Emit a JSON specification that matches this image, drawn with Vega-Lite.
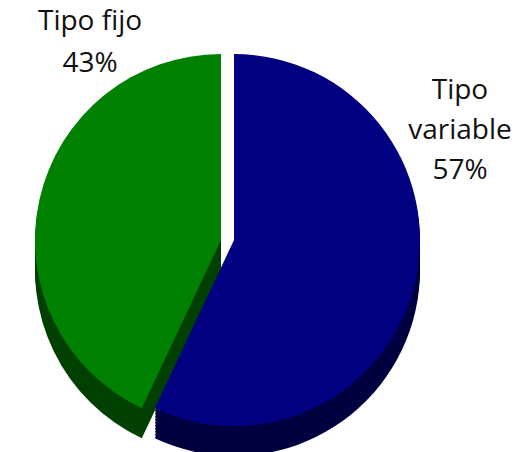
{
  "$schema": "https://vega.github.io/schema/vega-lite/v6.json",
  "width": 521,
  "height": 452,
  "autosize": {"type": "fit", "contains": "padding"},
  "padding": 0,
  "background": "white",
  "config": {"view": {"stroke": null}},
  "data": {"values": [
    {"tipo": "Tipo variable", "value": 57, "ord": 1, "label": "Tipo\nvariable\n57%"},
    {"tipo": "Tipo fijo", "value": 43, "ord": 2, "label": "Tipo fijo\n43%"}
  ]},
  "transform": [
    {"stack": "value", "groupby": [], "sort": [{"field": "ord"}], "as": ["t0", "t1"]},
    {"calculate": "(datum.t0 + datum.t1) / 2", "as": "mid"}
  ],
  "encoding": {
    "theta": {"field": "t0", "type": "quantitative", "scale": {"domain": [0, 100]}},
    "theta2": {"field": "t1"}
  },
  "layer": [
    {"transform": [{"filter": "datum.tipo === 'Tipo fijo'"}], "mark": {"type": "arc", "radius": 186, "xOffset": -39.5, "yOffset": 48, "fill": "#004000"}},
    {"transform": [{"filter": "datum.tipo === 'Tipo fijo'"}], "mark": {"type": "arc", "radius": 186, "xOffset": -39.5, "yOffset": 45, "fill": "#004000"}},
    {"transform": [{"filter": "datum.tipo === 'Tipo fijo'"}], "mark": {"type": "arc", "radius": 186, "xOffset": -39.5, "yOffset": 42, "fill": "#004000"}},
    {"transform": [{"filter": "datum.tipo === 'Tipo fijo'"}], "mark": {"type": "arc", "radius": 186, "xOffset": -39.5, "yOffset": 39, "fill": "#004000"}},
    {"transform": [{"filter": "datum.tipo === 'Tipo fijo'"}], "mark": {"type": "arc", "radius": 186, "xOffset": -39.5, "yOffset": 36, "fill": "#004000"}},
    {"transform": [{"filter": "datum.tipo === 'Tipo fijo'"}], "mark": {"type": "arc", "radius": 186, "xOffset": -39.5, "yOffset": 33, "fill": "#004000"}},
    {"transform": [{"filter": "datum.tipo === 'Tipo fijo'"}], "mark": {"type": "arc", "radius": 186, "xOffset": -39.5, "yOffset": 30, "fill": "#004000"}},
    {"transform": [{"filter": "datum.tipo === 'Tipo fijo'"}], "mark": {"type": "arc", "radius": 186, "xOffset": -39.5, "yOffset": 27, "fill": "#004000"}},
    {"transform": [{"filter": "datum.tipo === 'Tipo fijo'"}], "mark": {"type": "arc", "radius": 186, "xOffset": -39.5, "yOffset": 24, "fill": "#004000"}},
    {"transform": [{"filter": "datum.tipo === 'Tipo fijo'"}], "mark": {"type": "arc", "radius": 186, "xOffset": -39.5, "yOffset": 21, "fill": "#004000"}},
    {"transform": [{"filter": "datum.tipo === 'Tipo fijo'"}], "mark": {"type": "arc", "radius": 186, "xOffset": -39.5, "yOffset": 18, "fill": "#008000"}},
    {"transform": [{"filter": "datum.tipo === 'Tipo variable'"}], "mark": {"type": "arc", "radius": 186, "xOffset": -26.5, "yOffset": 48, "fill": "#000040"}},
    {"transform": [{"filter": "datum.tipo === 'Tipo variable'"}], "mark": {"type": "arc", "radius": 186, "xOffset": -26.5, "yOffset": 45, "fill": "#000040"}},
    {"transform": [{"filter": "datum.tipo === 'Tipo variable'"}], "mark": {"type": "arc", "radius": 186, "xOffset": -26.5, "yOffset": 42, "fill": "#000040"}},
    {"transform": [{"filter": "datum.tipo === 'Tipo variable'"}], "mark": {"type": "arc", "radius": 186, "xOffset": -26.5, "yOffset": 39, "fill": "#000040"}},
    {"transform": [{"filter": "datum.tipo === 'Tipo variable'"}], "mark": {"type": "arc", "radius": 186, "xOffset": -26.5, "yOffset": 36, "fill": "#000040"}},
    {"transform": [{"filter": "datum.tipo === 'Tipo variable'"}], "mark": {"type": "arc", "radius": 186, "xOffset": -26.5, "yOffset": 33, "fill": "#000040"}},
    {"transform": [{"filter": "datum.tipo === 'Tipo variable'"}], "mark": {"type": "arc", "radius": 186, "xOffset": -26.5, "yOffset": 30, "fill": "#000040"}},
    {"transform": [{"filter": "datum.tipo === 'Tipo variable'"}], "mark": {"type": "arc", "radius": 186, "xOffset": -26.5, "yOffset": 27, "fill": "#000040"}},
    {"transform": [{"filter": "datum.tipo === 'Tipo variable'"}], "mark": {"type": "arc", "radius": 186, "xOffset": -26.5, "yOffset": 24, "fill": "#000040"}},
    {"transform": [{"filter": "datum.tipo === 'Tipo variable'"}], "mark": {"type": "arc", "radius": 186, "xOffset": -26.5, "yOffset": 21, "fill": "#000040"}},
    {"transform": [{"filter": "datum.tipo === 'Tipo variable'"}], "mark": {"type": "arc", "radius": 186, "xOffset": -26.5, "yOffset": 18, "fill": "#000080"}},
    {
      "transform": [{"filter": "datum.tipo === 'Tipo fijo'"}],
      "mark": {"type": "text", "radius": 200, "dx": 24.7, "dy": -148.4, "font": "Open Sans", "fontSize": 28, "lineHeight": 42, "lineBreak": "\n", "align": "center", "baseline": "alphabetic", "color": "#111111"},
      "encoding": {"theta": {"field": "mid", "type": "quantitative", "scale": {"domain": [0, 100]}}, "theta2": null, "text": {"field": "label"}}
    },
    {
      "transform": [{"filter": "datum.tipo === 'Tipo variable'"}],
      "mark": {"type": "text", "radius": 200, "dx": 4.3, "dy": -166.6, "font": "Open Sans", "fontSize": 28, "lineHeight": 40, "lineBreak": "\n", "align": "center", "baseline": "alphabetic", "color": "#111111"},
      "encoding": {"theta": {"field": "mid", "type": "quantitative", "scale": {"domain": [0, 100]}}, "theta2": null, "text": {"field": "label"}}
    }
  ]
}
